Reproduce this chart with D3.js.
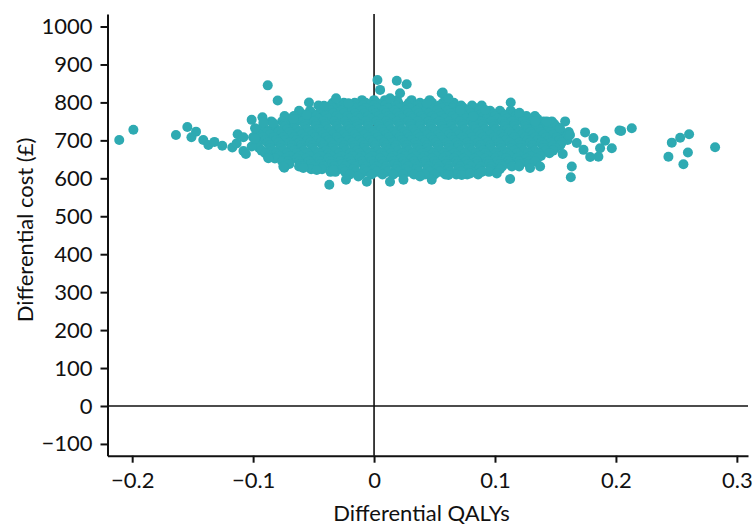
<!DOCTYPE html>
<html>
<head>
<meta charset="utf-8">
<script src="https://cdn.jsdelivr.net/npm/d3@7"></script>
<style>
  html, body { margin: 0; padding: 0; background: #fff; }
  svg { display: block; font-family: Lato, "Open Sans", sans-serif; }
</style>
</head>
<body>
<svg id="chart" width="754" height="525"></svg>
<script>
// Tick values for both axes
const xTicks = [-0.2, -0.1, 0, 0.1, 0.2, 0.3];
const yTicks = [-100, 0, 100, 200, 300, 400, 500, 600, 700, 800, 900, 1000];

// Bulk of the simulations: incremental cost bands, each with the incremental QALYs of its runs
const coreRows = [
  { cost: 806, qaly: [-0.010, 0.000, 0.009, 0.019, 0.031, 0.046, 0.059] },
  { cost: 799, qaly: [-0.034, -0.025, -0.016, -0.007, 0.002, 0.011, 0.020, 0.029, 0.038, 0.048, 0.057, 0.066] },
  { cost: 792, qaly: [-0.046, -0.036, -0.027, -0.018, -0.009, 0.000, 0.009, 0.018, 0.027, 0.036, 0.045, 0.054, 0.063, 0.072, 0.081, 0.089] },
  { cost: 785, qaly: [-0.044, -0.034, -0.025, -0.016, -0.007, 0.002, 0.011, 0.020, 0.029, 0.038, 0.047, 0.056, 0.065, 0.074, 0.083] },
  { cost: 778, qaly: [-0.062, -0.053, -0.044, -0.036, -0.027, -0.018, -0.010, -0.001, 0.008, 0.017, 0.026, 0.035, 0.043, 0.052, 0.061, 0.069, 0.078, 0.087, 0.096, 0.104, 0.113] },
  { cost: 771, qaly: [-0.060, -0.051, -0.042, -0.034, -0.025, -0.016, -0.008, 0.001, 0.010, 0.019, 0.028, 0.037, 0.045, 0.054, 0.063, 0.071, 0.080, 0.089, 0.098, 0.106, 0.115] },
  { cost: 764, qaly: [-0.074, -0.066, -0.057, -0.048, -0.040, -0.031, -0.022, -0.014, -0.005, 0.004, 0.012, 0.021, 0.030, 0.039, 0.048, 0.056, 0.065, 0.074, 0.082, 0.091, 0.100, 0.108, 0.117, 0.126, 0.133] },
  { cost: 757, qaly: [-0.072, -0.064, -0.055, -0.046, -0.038, -0.029, -0.020, -0.012, -0.003, 0.006, 0.014, 0.023, 0.032, 0.041, 0.050, 0.058, 0.067, 0.076, 0.084, 0.093, 0.102, 0.110, 0.119, 0.128, 0.135] },
  { cost: 750, qaly: [-0.085, -0.076, -0.068, -0.059, -0.050, -0.042, -0.033, -0.024, -0.016, -0.007, 0.002, 0.010, 0.019, 0.028, 0.036, 0.045, 0.054, 0.062, 0.071, 0.080, 0.088, 0.097, 0.106, 0.114, 0.123, 0.131, 0.140, 0.147] },
  { cost: 743, qaly: [-0.083, -0.074, -0.066, -0.057, -0.048, -0.040, -0.031, -0.022, -0.014, -0.005, 0.004, 0.012, 0.021, 0.030, 0.038, 0.047, 0.056, 0.064, 0.073, 0.082, 0.090, 0.099, 0.108, 0.116, 0.125, 0.133, 0.142, 0.149] },
  { cost: 736, qaly: [-0.092, -0.083, -0.074, -0.066, -0.057, -0.048, -0.040, -0.031, -0.022, -0.014, -0.005, 0.004, 0.012, 0.021, 0.030, 0.038, 0.047, 0.056, 0.064, 0.073, 0.082, 0.090, 0.099, 0.108, 0.116, 0.125, 0.134, 0.142, 0.151] },
  { cost: 729, qaly: [-0.090, -0.081, -0.072, -0.064, -0.055, -0.046, -0.038, -0.029, -0.020, -0.012, -0.003, 0.006, 0.014, 0.023, 0.032, 0.040, 0.049, 0.058, 0.066, 0.075, 0.084, 0.092, 0.101, 0.110, 0.118, 0.127, 0.136, 0.144, 0.153] },
  { cost: 722, qaly: [-0.097, -0.088, -0.079, -0.070, -0.062, -0.053, -0.044, -0.036, -0.027, -0.018, -0.010, -0.001, 0.008, 0.016, 0.025, 0.034, 0.042, 0.051, 0.060, 0.068, 0.077, 0.086, 0.094, 0.103, 0.112, 0.120, 0.129, 0.138, 0.146, 0.155, 0.161] },
  { cost: 715, qaly: [-0.095, -0.086, -0.077, -0.068, -0.060, -0.051, -0.042, -0.034, -0.025, -0.016, -0.008, 0.001, 0.010, 0.018, 0.027, 0.036, 0.044, 0.053, 0.062, 0.070, 0.079, 0.088, 0.096, 0.105, 0.114, 0.122, 0.131, 0.140, 0.148, 0.157] },
  { cost: 708, qaly: [-0.100, -0.092, -0.083, -0.075, -0.066, -0.057, -0.049, -0.040, -0.031, -0.023, -0.014, -0.005, 0.003, 0.012, 0.021, 0.029, 0.038, 0.047, 0.055, 0.064, 0.073, 0.081, 0.090, 0.099, 0.107, 0.116, 0.125, 0.133, 0.142, 0.151, 0.159] },
  { cost: 701, qaly: [-0.098, -0.090, -0.081, -0.073, -0.064, -0.055, -0.047, -0.038, -0.029, -0.021, -0.012, -0.003, 0.005, 0.014, 0.023, 0.031, 0.040, 0.049, 0.057, 0.066, 0.075, 0.083, 0.092, 0.101, 0.109, 0.118, 0.127, 0.135, 0.144, 0.153, 0.160] },
  { cost: 694, qaly: [-0.098, -0.088, -0.079, -0.070, -0.062, -0.053, -0.044, -0.036, -0.027, -0.018, -0.010, -0.001, 0.008, 0.016, 0.025, 0.034, 0.042, 0.051, 0.060, 0.068, 0.077, 0.086, 0.094, 0.103, 0.112, 0.120, 0.129, 0.138, 0.146, 0.155] },
  { cost: 687, qaly: [-0.096, -0.086, -0.077, -0.068, -0.060, -0.051, -0.042, -0.034, -0.025, -0.016, -0.008, 0.001, 0.010, 0.018, 0.027, 0.036, 0.044, 0.053, 0.062, 0.070, 0.079, 0.088, 0.096, 0.105, 0.114, 0.122, 0.131, 0.140, 0.148, 0.154] },
  { cost: 680, qaly: [-0.095, -0.086, -0.077, -0.068, -0.060, -0.051, -0.042, -0.034, -0.025, -0.016, -0.008, 0.001, 0.010, 0.018, 0.027, 0.036, 0.044, 0.053, 0.062, 0.070, 0.079, 0.088, 0.096, 0.105, 0.114, 0.122, 0.131, 0.140, 0.150] },
  { cost: 673, qaly: [-0.093, -0.084, -0.075, -0.066, -0.058, -0.049, -0.040, -0.032, -0.023, -0.014, -0.006, 0.003, 0.012, 0.020, 0.029, 0.038, 0.046, 0.055, 0.064, 0.072, 0.081, 0.090, 0.098, 0.107, 0.116, 0.124, 0.133, 0.142, 0.148] },
  { cost: 666, qaly: [-0.090, -0.081, -0.072, -0.064, -0.055, -0.046, -0.038, -0.029, -0.020, -0.012, -0.003, 0.006, 0.014, 0.023, 0.032, 0.040, 0.049, 0.058, 0.066, 0.075, 0.084, 0.092, 0.101, 0.110, 0.118, 0.127, 0.136, 0.145] },
  { cost: 659, qaly: [-0.087, -0.079, -0.070, -0.062, -0.053, -0.044, -0.036, -0.027, -0.018, -0.010, -0.001, 0.008, 0.016, 0.025, 0.034, 0.042, 0.051, 0.060, 0.068, 0.077, 0.086, 0.094, 0.103, 0.112, 0.120, 0.129, 0.138] },
  { cost: 652, qaly: [-0.082, -0.073, -0.064, -0.056, -0.047, -0.038, -0.030, -0.021, -0.012, -0.004, 0.005, 0.014, 0.022, 0.031, 0.040, 0.048, 0.057, 0.066, 0.074, 0.083, 0.092, 0.100, 0.109, 0.118, 0.126, 0.135] },
  { cost: 645, qaly: [-0.076, -0.071, -0.062, -0.054, -0.045, -0.036, -0.028, -0.019, -0.010, -0.002, 0.007, 0.016, 0.024, 0.033, 0.042, 0.050, 0.059, 0.068, 0.076, 0.085, 0.094, 0.102, 0.111, 0.120, 0.128, 0.133] },
  { cost: 638, qaly: [-0.070, -0.061, -0.052, -0.044, -0.035, -0.026, -0.018, -0.009, 0.000, 0.008, 0.017, 0.026, 0.034, 0.043, 0.052, 0.060, 0.069, 0.078, 0.086, 0.095, 0.104, 0.112, 0.121, 0.128] },
  { cost: 631, qaly: [-0.062, -0.059, -0.050, -0.042, -0.033, -0.024, -0.016, -0.007, 0.002, 0.010, 0.019, 0.028, 0.036, 0.045, 0.054, 0.062, 0.071, 0.080, 0.088, 0.097, 0.106, 0.114, 0.120] },
  { cost: 624, qaly: [-0.052, -0.043, -0.034, -0.026, -0.017, -0.008, 0.000, 0.009, 0.018, 0.026, 0.035, 0.044, 0.052, 0.061, 0.070, 0.078, 0.087, 0.096, 0.104] },
  { cost: 617, qaly: [-0.036, -0.032, -0.024, -0.015, -0.006, 0.002, 0.011, 0.020, 0.028, 0.037, 0.046, 0.054, 0.063, 0.072, 0.080, 0.089, 0.095] },
  { cost: 610, qaly: [-0.020, -0.011, -0.002, 0.007, 0.016, 0.024, 0.033, 0.042, 0.050, 0.059, 0.068, 0.077, 0.086] }
];

// Individually placed runs around the edge of the cloud: [incremental QALYs, incremental cost]
const edgeRuns = [
  [-0.2107, 701], [-0.199, 728], [-0.1638, 714], [-0.1544, 735], [-0.1472, 723], [-0.151, 708],
  [-0.1412, 701], [-0.137, 688], [-0.132, 696], [-0.1255, 686], [-0.1172, 681], [-0.1128, 716],
  [-0.108, 708], [-0.1136, 692], [-0.108, 672], [-0.106, 664], [-0.1012, 754], [-0.0923, 761],
  [-0.0984, 732], [-0.1012, 684], [-0.0984, 704], [-0.0915, 747], [-0.0879, 845], [-0.0797, 805],
  [-0.0874, 655], [-0.0833, 745], [-0.0742, 628], [-0.0667, 763], [-0.0538, 800], [-0.0414, 791],
  [-0.0314, 811], [-0.0212, 798], [-0.037, 583], [-0.0232, 596], [-0.0557, 767], [-0.0667, 756],
  [-0.075, 631], [-0.0585, 627], [-0.0474, 622], [-0.0337, 622], [-0.0874, 653], [-0.013, 605],
  [0.0028, 859], [0.0188, 857], [0.027, 848], [0.005, 833], [0.0215, 824], [0.0132, 811],
  [0.056, 824], [0.0615, 811], [0.0436, 798], [0.0711, 780], [0.0477, 596], [0.0615, 609],
  [-0.006, 591], [0.0132, 591], [0.0243, 596], [0.038, 605], [0.0725, 609], [0.0794, 613],
  [0.089, 618], [0.0821, 763], [0.0918, 780], [0.0568, 826], [0.113, 800], [0.1202, 773],
  [0.158, 750], [0.1745, 721], [0.1814, 706], [0.191, 699], [0.1966, 679], [0.2029, 726],
  [0.1855, 657], [0.1787, 656], [0.1635, 631], [0.1627, 603], [0.1125, 598], [0.156, 664],
  [0.1676, 693], [0.162, 714], [0.1538, 732], [0.1428, 750], [0.1332, 750], [0.129, 627],
  [0.1373, 631], [0.1015, 613], [0.1732, 675], [0.1869, 679], [0.2043, 725], [0.2131, 732],
  [0.2434, 657], [0.2462, 694], [0.2531, 707], [0.2605, 716], [0.2595, 668], [0.2558, 637],
  [0.282, 682]
];

const points = coreRows.flatMap(r => r.qaly.map(q => [q, r.cost])).concat(edgeRuns);

const svg = d3.select("#chart");
const ink = "#111";
const teal = "#2eaab2";

const x = d3.scaleLinear().domain([-0.2204, 0.3092]).range([107.5, 748]);
const y = d3.scaleLinear().domain([-131, 1033]).range([455.7, 14]);
const fmt = d3.format("~g");

// Axes
const xAxis = svg.append("g")
  .attr("transform", `translate(0,${y.range()[0]})`)
  .call(d3.axisBottom(x).tickValues(xTicks).tickFormat(fmt).tickSizeInner(7).tickSizeOuter(0).tickPadding(10));
const yAxis = svg.append("g")
  .attr("transform", `translate(${x.range()[0]},0)`)
  .call(d3.axisLeft(y).tickValues(yTicks).tickFormat(fmt).tickSizeInner(7).tickSizeOuter(0).tickPadding(8));

[xAxis, yAxis].forEach(g => {
  g.select(".domain").attr("stroke", ink).attr("stroke-width", 2);
  g.selectAll(".tick line").attr("stroke", ink).attr("stroke-width", 2);
  g.selectAll(".tick text").attr("fill", ink).style("font-size", "22px").style("font-family", "Lato, sans-serif");
});

// Zero reference lines
svg.append("line")
  .attr("x1", x.range()[0]).attr("x2", x.range()[1])
  .attr("y1", y(0)).attr("y2", y(0))
  .attr("stroke", ink).attr("stroke-width", 1.6);
svg.append("line")
  .attr("x1", x(0)).attr("x2", x(0))
  .attr("y1", y.range()[1]).attr("y2", y.range()[0])
  .attr("stroke", ink).attr("stroke-width", 1.6);

// Simulation runs
svg.append("g").selectAll("circle")
  .data(points)
  .join("circle")
  .attr("cx", d => x(d[0]))
  .attr("cy", d => y(d[1]))
  .attr("r", 5)
  .attr("fill", teal);

// Axis titles
svg.append("text")
  .attr("x", 421.5).attr("y", 521)
  .attr("text-anchor", "middle")
  .attr("fill", ink)
  .style("font-size", "22px")
  .text("Differential QALYs");
svg.append("text")
  .attr("transform", "translate(33,230) rotate(-90)")
  .attr("text-anchor", "middle")
  .attr("fill", ink)
  .style("font-size", "22px")
  .text("Differential cost (£)");
</script>
</body>
</html>
